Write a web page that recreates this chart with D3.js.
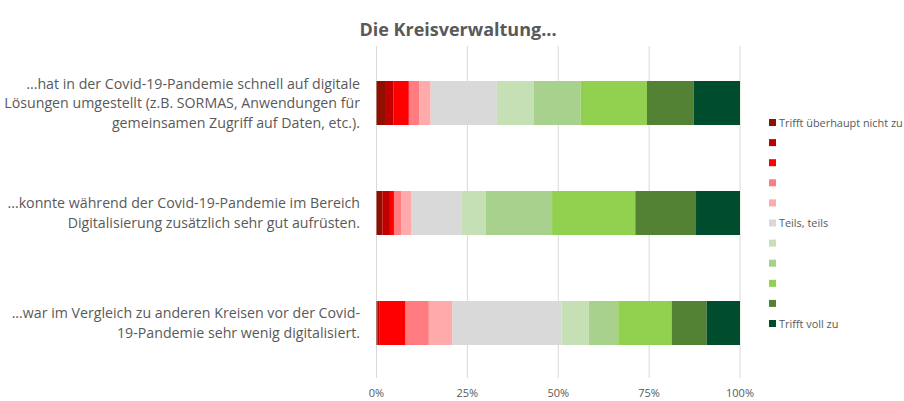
<!DOCTYPE html>
<html>
<head>
<meta charset="utf-8">
<script src="https://cdn.jsdelivr.net/npm/d3@7"></script>
<style>
  body { margin: 0; background: #fff; }
  text { font-family: "Open Sans", "Noto Sans", sans-serif; fill: #595959; }
</style>
</head>
<body>
<div id="chart"></div>
<script>
// statements (each split into lines for the label)
let statements = [
  ['...hat in der Covid-19-Pandemie schnell auf digitale', 'Lösungen umgestellt (z.B. SORMAS, Anwendungen für', 'gemeinsamen Zugriff auf Daten, etc.).'],
  ['...konnte während der Covid-19-Pandemie im Bereich', 'Digitalisierung zusätzlich sehr gut aufrüsten.'],
  ['...war im Vergleich zu anderen Kreisen vor der Covid-', '19-Pandemie sehr wenig digitalisiert.']
];

let legendLabels = ['Trifft überhaupt nicht zu', '', '', '', '', 'Teils, teils', '', '', '', '', 'Trifft voll zu'];
let colors = ['#8f0f00', '#c00000', '#ff0000', '#ff7c80', '#ffabab', '#d9d9d9', '#c5e0b4', '#a9d18e', '#92d050', '#548235', '#004d2e'];

// percent shares of the 11 answer levels per statement
let shares1 = [2.6, 2.0, 4.3, 2.8, 3.2, 18.2, 10.2, 12.9, 18.2, 12.9, 12.7];
let shares2 = [1.6, 2.1, 1.1, 2.1, 2.6, 14.0, 6.6, 18.2, 22.9, 16.7, 12.1];
let shares3 = [0.3, 0.6, 7.1, 6.4, 6.5, 30.0, 7.5, 8.1, 14.7, 9.6, 9.2];

let ticks = [0, 25, 50, 75, 100];

let width = 904, height = 401;
let margin = { top: 46, left: 376.5, right: 164, bottom: 23 };

let svg = d3.select('#chart').append('svg')
  .attr('width', width)
  .attr('height', height);

let x = d3.scaleLinear().domain([0, 100]).range([margin.left, width - margin.right]);
let y = d3.scaleBand().domain([0, 1, 2]).range([48, height - margin.bottom]).paddingInner(0.6).paddingOuter(0.3);

// title
svg.append('text')
  .attr('x', 458)
  .attr('y', 36)
  .attr('text-anchor', 'middle')
  .style('font-size', '18px')
  .style('font-weight', 'bold')
  .text('Die Kreisverwaltung...');

// gridlines
svg.selectAll('.grid')
  .data(ticks)
  .enter()
  .append('line')
  .attr('x1', d => x(d))
  .attr('x2', d => x(d))
  .attr('y1', margin.top)
  .attr('y2', height - margin.bottom)
  .attr('stroke', '#d9d9d9')
  .attr('stroke-width', 1);

// tick labels
svg.selectAll('.tick')
  .data(ticks)
  .enter()
  .append('text')
  .attr('x', d => x(d))
  .attr('y', 397)
  .attr('text-anchor', 'middle')
  .style('font-size', '11px')
  .text(d => d + '%');

// bars
let allShares = [shares1, shares2, shares3];
allShares.forEach(function (shares, i) {
  let cum = 0;
  let segs = shares.map(function (v, k) {
    let s = { x0: cum, x1: cum + v, c: colors[k] };
    cum += v;
    return s;
  });
  let total = cum;
  svg.append('g').selectAll('rect')
    .data(segs)
    .enter()
    .append('rect')
    .attr('x', d => x(d.x0 / total * 100))
    .attr('width', d => x(d.x1 / total * 100) - x(d.x0 / total * 100))
    .attr('y', y(i))
    .attr('height', y.bandwidth())
    .attr('fill', d => d.c);
});

// statement labels
statements.forEach(function (lines, i) {
  let cy = y(i) + y.bandwidth() / 2;
  let lh = 19.5;
  let t = svg.append('text')
    .attr('text-anchor', 'end')
    .style('font-size', '14.2px');
  lines.forEach(function (line, j) {
    t.append('tspan')
      .attr('x', 360)
      .attr('y', cy + (j - (lines.length - 1) / 2) * lh + 5)
      .text(line);
  });
});

// legend
let legend = svg.append('g').attr('id', 'legend');
legendLabels.forEach(function (l, i) {
  let ly = 119 + i * 20.1;
  legend.append('rect')
    .attr('x', 769)
    .attr('y', ly)
    .attr('width', 7)
    .attr('height', 7)
    .attr('fill', colors[i]);
  legend.append('text')
    .attr('x', 779)
    .attr('y', ly + 7.5)
    .style('font-size', '10.9px')
    .text(l);
});
</script>
</body>
</html>
